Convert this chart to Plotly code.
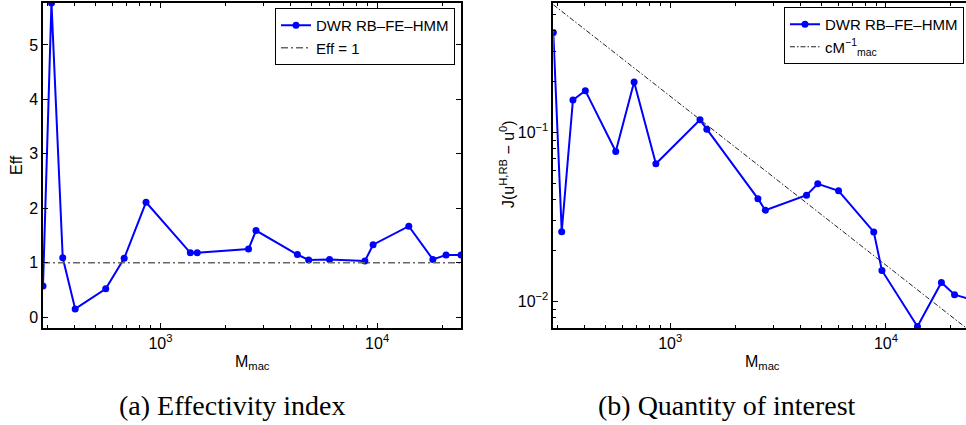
import numpy as np
import plotly.graph_objects as go

# ---------------- data ----------------
M_MAC = [287, 314, 354, 404, 559, 680, 858, 1374, 1478, 2550, 2760, 4285,
         4830, 6030, 8780, 9580, 14000, 18080, 20800, 24380]
EFF = [0.57, 5.77, 1.09, 0.15, 0.52, 1.08, 2.11, 1.18, 1.18, 1.25, 1.59, 1.15,
       1.05, 1.06, 1.03, 1.33, 1.67, 1.06, 1.14, 1.14]
QOI = [0.391, 0.0259, 0.156, 0.177, 0.0772, 0.1995, 0.0653, 0.119, 0.1047,
       0.0406, 0.0347, 0.0426, 0.0497, 0.0452, 0.0258, 0.01526, 0.00711,
       0.01296, 0.01096, 0.01035]
EFF_REF = 1.0
C_REF = 164.0

X_TICKS = [1e3, 1e4]
X_TICK_TEXT = ["10<sup>3</sup>", "10<sup>4</sup>"]
Y2_TICKS = [1e-2, 1e-1]
Y2_TICK_TEXT = ["10<sup>\u22122</sup>", "10<sup>\u22121</sup>"]
Y1_TICKS = [0, 1, 2, 3, 4, 5]

X_MINOR = [300, 400, 500, 600, 700, 800, 900, 2000, 3000, 4000, 5000, 6000,
           7000, 8000, 9000, 20000]
Y2_MINOR = [0.007, 0.008, 0.009, 0.02, 0.03, 0.04, 0.05, 0.06, 0.07, 0.08,
            0.09, 0.2, 0.3, 0.4, 0.5]

W, H = 966, 425
BLUE = "#0000ff"
FONT = "Liberation Sans"
FS = 16


def px(xp):
    return xp / W


def py(yp):
    return 1 - yp / H


fig = go.Figure()

ref_x = [M_MAC[0], M_MAC[-1]]

fig.add_trace(go.Scatter(
    x=M_MAC, y=EFF, mode="lines+markers", name="DWR RB\u2013FE\u2013HMM",
    line=dict(color=BLUE, width=2), marker=dict(color=BLUE, size=7),
    xaxis="x", yaxis="y", legend="legend"))
fig.add_trace(go.Scatter(
    x=ref_x, y=[EFF_REF, EFF_REF], mode="lines", name="Eff = 1",
    line=dict(color="#666666", width=1.5, dash="7px,3px,2px,3px"),
    xaxis="x", yaxis="y", legend="legend"))

fig.add_trace(go.Scatter(
    x=M_MAC, y=QOI, mode="lines+markers", name="DWR RB\u2013FE\u2013HMM",
    line=dict(color=BLUE, width=2), marker=dict(color=BLUE, size=7),
    xaxis="x2", yaxis="y2", legend="legend2", cliponaxis=True))
fig.add_trace(go.Scatter(
    x=ref_x, y=[C_REF / v for v in ref_x], mode="lines",
    name="cM<sup>\u22121</sup><sub>mac</sub>",
    line=dict(color="#222222", width=1, dash="5px,2px,1.5px,2px"),
    xaxis="x2", yaxis="y2", legend="legend2"))

axis_common = dict(
    showline=True, linecolor="black", linewidth=1.5, ticks="inside",
    ticklen=5, tickcolor="black", tickwidth=1, showgrid=False, zeroline=False,
    tickfont=dict(family=FONT, size=FS, color="black"))

x_lo = np.log10(M_MAC[0])
x_hi1 = np.log10(M_MAC[-1])
x_hi2 = x_lo + (966 - 553.3) / 215.7

fig.update_layout(
    width=W, height=H, margin=dict(l=0, r=0, t=0, b=0),
    paper_bgcolor="white", plot_bgcolor="white", showlegend=True,
    font=dict(family=FONT, size=FS, color="black"),
    xaxis=dict(domain=[px(43), px(461)], type="log", range=[x_lo, x_hi1],
               tickvals=X_TICKS, ticktext=X_TICK_TEXT, mirror="ticks",
               minor=dict(tickvals=X_MINOR, ticks="inside", ticklen=3,
                          tickcolor="black", showgrid=False),
               anchor="y", **axis_common),
    yaxis=dict(domain=[py(328), py(3)], range=[-0.2, 5.77],
               tickvals=Y1_TICKS, mirror="ticks", anchor="x", **axis_common),
    xaxis2=dict(domain=[px(553.3), 1.0], type="log", range=[x_lo, x_hi2],
                tickvals=X_TICKS, ticktext=X_TICK_TEXT, mirror="ticks",
                minor=dict(tickvals=X_MINOR, ticks="inside", ticklen=3,
                           tickcolor="black", showgrid=False),
                anchor="y2", **axis_common),
    yaxis2=dict(domain=[py(328), py(3)], type="log",
                range=[np.log10(0.00696), np.log10(0.585)],
                tickvals=Y2_TICKS, ticktext=Y2_TICK_TEXT, mirror=False,
                minor=dict(tickvals=Y2_MINOR, ticks="inside", ticklen=3,
                           tickcolor="black", showgrid=False),
                anchor="x2", **axis_common),
    legend=dict(x=px(455), y=py(8), xanchor="right", yanchor="top",
                bgcolor="white", bordercolor="black", borderwidth=1,
                font=dict(family=FONT, size=15, color="black"),
                itemwidth=30, tracegroupgap=0),
    legend2=dict(x=px(964), y=py(7), xanchor="right", yanchor="top",
                 bgcolor="white", bordercolor="black", borderwidth=1,
                 font=dict(family=FONT, size=15, color="black"),
                 itemwidth=30, tracegroupgap=0),
)

annots = [
    dict(text="Eff", x=px(17), y=py(165), textangle=-90,
         font=dict(family=FONT, size=FS, color="black")),
    dict(text="J(u<sup>H,RB</sup> \u2212 u<sup>0</sup>)", x=px(507),
         y=py(164), textangle=-90,
         font=dict(family=FONT, size=FS, color="black")),
    dict(text="M<sub>mac</sub>", x=px(252), y=py(362),
         font=dict(family=FONT, size=FS, color="black")),
    dict(text="M<sub>mac</sub>", x=px(762), y=py(362),
         font=dict(family=FONT, size=FS, color="black")),
    dict(text="(a) Effectivity index", x=px(232), y=py(405),
         font=dict(family="Liberation Serif", size=28, color="black")),
    dict(text="(b) Quantity of interest", x=px(727), y=py(405),
         font=dict(family="Liberation Serif", size=28, color="black")),
]
for a in annots:
    fig.add_annotation(xref="paper", yref="paper", showarrow=False,
                       xanchor="center", yanchor="middle", **a)

fig.write_html(
    "out.html",
    config={"displayModeBar": False},
    post_script="document.body.style.margin='0';document.body.style.overflow='hidden';")
